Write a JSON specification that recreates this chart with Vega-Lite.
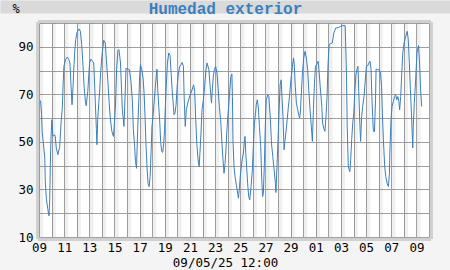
{
"$schema": "https://vega.github.io/schema/vega-lite/v6.json",
"width": 390, "height": 214,
"autosize": {"type": "none"},
"padding": {"left": 39, "top": 23, "right": 21, "bottom": 33},
"background": "#f4f4f4",
"config": {"view": {"fill": "white", "stroke": null}},
"datasets": {
"noches": [
{"desde":"2025-04-09T01:00","hasta":"2025-04-09T08:00"},{"desde":"2025-04-10T01:00","hasta":"2025-04-10T08:00"},{"desde":"2025-04-11T01:00","hasta":"2025-04-11T08:00"},{"desde":"2025-04-12T01:00","hasta":"2025-04-12T08:00"},{"desde":"2025-04-13T01:00","hasta":"2025-04-13T08:00"},{"desde":"2025-04-14T01:00","hasta":"2025-04-14T08:00"},{"desde":"2025-04-15T01:00","hasta":"2025-04-15T08:00"},{"desde":"2025-04-16T01:00","hasta":"2025-04-16T08:00"},{"desde":"2025-04-17T01:00","hasta":"2025-04-17T08:00"},{"desde":"2025-04-18T01:00","hasta":"2025-04-18T08:00"},{"desde":"2025-04-19T01:00","hasta":"2025-04-19T08:00"},{"desde":"2025-04-20T01:00","hasta":"2025-04-20T08:00"},{"desde":"2025-04-21T01:00","hasta":"2025-04-21T08:00"},{"desde":"2025-04-22T01:00","hasta":"2025-04-22T08:00"},{"desde":"2025-04-23T01:00","hasta":"2025-04-23T08:00"},{"desde":"2025-04-24T01:00","hasta":"2025-04-24T08:00"},{"desde":"2025-04-25T01:00","hasta":"2025-04-25T08:00"},{"desde":"2025-04-26T01:00","hasta":"2025-04-26T08:00"},{"desde":"2025-04-27T01:00","hasta":"2025-04-27T08:00"},{"desde":"2025-04-28T01:00","hasta":"2025-04-28T08:00"},{"desde":"2025-04-29T01:00","hasta":"2025-04-29T08:00"},{"desde":"2025-04-30T01:00","hasta":"2025-04-30T08:00"},{"desde":"2025-05-01T01:00","hasta":"2025-05-01T08:00"},{"desde":"2025-05-02T01:00","hasta":"2025-05-02T08:00"},{"desde":"2025-05-03T01:00","hasta":"2025-05-03T08:00"},{"desde":"2025-05-04T01:00","hasta":"2025-05-04T08:00"},{"desde":"2025-05-05T01:00","hasta":"2025-05-05T08:00"},{"desde":"2025-05-06T01:00","hasta":"2025-05-06T08:00"},{"desde":"2025-05-07T01:00","hasta":"2025-05-07T08:00"},{"desde":"2025-05-08T01:00","hasta":"2025-05-08T08:00"},{"desde":"2025-05-09T01:00","hasta":"2025-05-09T08:00"}
],
"humedad": [
{"fecha":"2025-04-09T03:00","hr":67.4},{"fecha":"2025-04-09T05:00","hr":61.4},{"fecha":"2025-04-09T06:00","hr":54.4},{"fecha":"2025-04-09T08:00","hr":50.2},{"fecha":"2025-04-09T11:00","hr":43.2},{"fecha":"2025-04-09T12:00","hr":33.3},{"fecha":"2025-04-09T14:00","hr":26.3},{"fecha":"2025-04-09T16:30","hr":22.1},{"fecha":"2025-04-09T19:00","hr":18.9},{"fecha":"2025-04-09T20:30","hr":25.6},{"fecha":"2025-04-09T21:30","hr":39.6},{"fecha":"2025-04-09T23:00","hr":52.3},
{"fecha":"2025-04-10T00:30","hr":59.3},{"fecha":"2025-04-10T02:30","hr":52.3},{"fecha":"2025-04-10T05:30","hr":53},{"fecha":"2025-04-10T07:00","hr":52.3},{"fecha":"2025-04-10T09:00","hr":47.4},{"fecha":"2025-04-10T12:00","hr":44.6},{"fecha":"2025-04-10T15:30","hr":48},{"fecha":"2025-04-10T18:00","hr":57.9},{"fecha":"2025-04-10T20:30","hr":64.2},{"fecha":"2025-04-10T22:00","hr":74},{"fecha":"2025-04-10T23:30","hr":81.8},
{"fecha":"2025-04-11T03:00","hr":84.8},{"fecha":"2025-04-11T06:00","hr":85.7},{"fecha":"2025-04-11T09:00","hr":84.6},{"fecha":"2025-04-11T11:00","hr":83.2},{"fecha":"2025-04-11T13:00","hr":74},{"fecha":"2025-04-11T15:00","hr":65.6},{"fecha":"2025-04-11T17:00","hr":73.3},{"fecha":"2025-04-11T18:00","hr":79},{"fecha":"2025-04-11T20:00","hr":87.4},{"fecha":"2025-04-11T22:00","hr":93},
{"fecha":"2025-04-12T00:30","hr":96.1},{"fecha":"2025-04-12T04:30","hr":97.5},{"fecha":"2025-04-12T07:00","hr":96.5},{"fecha":"2025-04-12T09:30","hr":90.9},{"fecha":"2025-04-12T12:00","hr":81.8},{"fecha":"2025-04-12T14:00","hr":73.3},{"fecha":"2025-04-12T16:30","hr":67},{"fecha":"2025-04-12T18:00","hr":65.2},{"fecha":"2025-04-12T21:00","hr":71.2},{"fecha":"2025-04-12T23:00","hr":78.2},
{"fecha":"2025-04-13T00:30","hr":83.2},{"fecha":"2025-04-13T03:00","hr":84.8},{"fecha":"2025-04-13T06:00","hr":83.9},{"fecha":"2025-04-13T08:30","hr":83.2},{"fecha":"2025-04-13T09:30","hr":77.5},{"fecha":"2025-04-13T11:30","hr":66.3},{"fecha":"2025-04-13T13:30","hr":55.1},{"fecha":"2025-04-13T14:30","hr":48.8},{"fecha":"2025-04-13T16:00","hr":59.3},{"fecha":"2025-04-13T18:00","hr":66.3},{"fecha":"2025-04-13T19:30","hr":70.5},{"fecha":"2025-04-13T21:30","hr":78.9},
{"fecha":"2025-04-14T00:30","hr":87.4},{"fecha":"2025-04-14T03:30","hr":92.7},{"fecha":"2025-04-14T06:30","hr":91.6},{"fecha":"2025-04-14T08:30","hr":84.6},{"fecha":"2025-04-14T11:00","hr":76.8},{"fecha":"2025-04-14T13:30","hr":67.7},{"fecha":"2025-04-14T16:00","hr":60},{"fecha":"2025-04-14T19:00","hr":54.4},{"fecha":"2025-04-14T22:00","hr":52.3},{"fecha":"2025-04-14T23:30","hr":56.5},
{"fecha":"2025-04-15T02:00","hr":66.3},{"fecha":"2025-04-15T04:00","hr":80.4},{"fecha":"2025-04-15T06:30","hr":88.5},{"fecha":"2025-04-15T08:30","hr":88.8},{"fecha":"2025-04-15T11:30","hr":83.2},{"fecha":"2025-04-15T13:00","hr":74.7},{"fecha":"2025-04-15T15:00","hr":63.5},{"fecha":"2025-04-15T17:00","hr":59.3},{"fecha":"2025-04-15T18:00","hr":56.5},{"fecha":"2025-04-15T20:00","hr":67.7},{"fecha":"2025-04-15T22:00","hr":81},
{"fecha":"2025-04-16T01:00","hr":80.6},{"fecha":"2025-04-16T04:30","hr":80.4},{"fecha":"2025-04-16T07:30","hr":75.4},{"fecha":"2025-04-16T10:00","hr":67.7},{"fecha":"2025-04-16T12:00","hr":55.1},{"fecha":"2025-04-16T14:30","hr":48.1},{"fecha":"2025-04-16T16:00","hr":41.8},{"fecha":"2025-04-16T18:00","hr":38.9},{"fecha":"2025-04-16T20:30","hr":56.5},{"fecha":"2025-04-16T22:30","hr":67.7},
{"fecha":"2025-04-17T00:00","hr":77.5},{"fecha":"2025-04-17T01:30","hr":82.5},{"fecha":"2025-04-17T04:00","hr":80.4},{"fecha":"2025-04-17T06:30","hr":76.8},{"fecha":"2025-04-17T08:30","hr":70.5},{"fecha":"2025-04-17T10:30","hr":59.3},{"fecha":"2025-04-17T12:00","hr":49.5},{"fecha":"2025-04-17T14:00","hr":39.6},{"fecha":"2025-04-17T16:00","hr":32.6},{"fecha":"2025-04-17T18:00","hr":31.2},{"fecha":"2025-04-17T20:00","hr":35.4},{"fecha":"2025-04-17T22:00","hr":46.7},{"fecha":"2025-04-17T23:30","hr":56.5},
{"fecha":"2025-04-18T01:30","hr":60.7},{"fecha":"2025-04-18T03:30","hr":66.3},{"fecha":"2025-04-18T06:00","hr":73.3},{"fecha":"2025-04-18T08:00","hr":78.2},{"fecha":"2025-04-18T09:00","hr":80.6},{"fecha":"2025-04-18T10:30","hr":71.9},{"fecha":"2025-04-18T12:30","hr":64.9},{"fecha":"2025-04-18T14:30","hr":57.9},{"fecha":"2025-04-18T16:00","hr":50.2},{"fecha":"2025-04-18T18:00","hr":46},{"fecha":"2025-04-18T20:00","hr":45.6},{"fecha":"2025-04-18T22:00","hr":49.5},{"fecha":"2025-04-18T23:30","hr":55.1},
{"fecha":"2025-04-19T01:00","hr":64.9},{"fecha":"2025-04-19T03:00","hr":74.7},{"fecha":"2025-04-19T05:00","hr":83.2},{"fecha":"2025-04-19T07:30","hr":87.4},{"fecha":"2025-04-19T10:00","hr":86.3},{"fecha":"2025-04-19T12:00","hr":78.9},{"fecha":"2025-04-19T14:00","hr":71.9},{"fecha":"2025-04-19T16:30","hr":64.9},{"fecha":"2025-04-19T17:30","hr":61.4},{"fecha":"2025-04-19T19:30","hr":62.1},{"fecha":"2025-04-19T21:30","hr":65.6},{"fecha":"2025-04-19T23:30","hr":73.3},
{"fecha":"2025-04-20T02:00","hr":78.9},{"fecha":"2025-04-20T04:30","hr":81.8},{"fecha":"2025-04-20T07:00","hr":82.5},{"fecha":"2025-04-20T09:00","hr":83.4},{"fecha":"2025-04-20T11:30","hr":81.8},{"fecha":"2025-04-20T13:00","hr":68.4},{"fecha":"2025-04-20T15:00","hr":56.5},{"fecha":"2025-04-20T17:00","hr":63.5},{"fecha":"2025-04-20T19:00","hr":65.6},{"fecha":"2025-04-20T21:30","hr":67.7},
{"fecha":"2025-04-21T00:30","hr":69.8},{"fecha":"2025-04-21T04:00","hr":71.9},{"fecha":"2025-04-21T07:00","hr":74},{"fecha":"2025-04-21T09:00","hr":71.2},{"fecha":"2025-04-21T11:00","hr":59.3},{"fecha":"2025-04-21T13:00","hr":49.5},{"fecha":"2025-04-21T15:30","hr":42.5},{"fecha":"2025-04-21T17:30","hr":39.6},{"fecha":"2025-04-21T19:00","hr":45.3},{"fecha":"2025-04-21T21:00","hr":53.7},{"fecha":"2025-04-21T23:00","hr":63.5},
{"fecha":"2025-04-22T01:30","hr":67.7},{"fecha":"2025-04-22T04:00","hr":73.3},{"fecha":"2025-04-22T06:30","hr":80.4},{"fecha":"2025-04-22T08:30","hr":83.2},{"fecha":"2025-04-22T12:00","hr":80.4},{"fecha":"2025-04-22T14:30","hr":73.3},{"fecha":"2025-04-22T17:00","hr":66.3},{"fecha":"2025-04-22T18:30","hr":71.2},{"fecha":"2025-04-22T20:30","hr":77.5},{"fecha":"2025-04-22T22:30","hr":80.4},
{"fecha":"2025-04-23T01:00","hr":81.8},{"fecha":"2025-04-23T03:30","hr":79},{"fecha":"2025-04-23T05:30","hr":73.3},{"fecha":"2025-04-23T08:00","hr":64.9},{"fecha":"2025-04-23T10:30","hr":59.3},{"fecha":"2025-04-23T13:00","hr":49.5},{"fecha":"2025-04-23T15:00","hr":42.5},{"fecha":"2025-04-23T17:00","hr":36.8},{"fecha":"2025-04-23T19:00","hr":41},{"fecha":"2025-04-23T21:00","hr":48.1},{"fecha":"2025-04-23T22:30","hr":55.1},
{"fecha":"2025-04-24T01:00","hr":62.8},{"fecha":"2025-04-24T04:00","hr":71.9},{"fecha":"2025-04-24T06:00","hr":77.5},{"fecha":"2025-04-24T08:00","hr":78.6},{"fecha":"2025-04-24T09:00","hr":69.1},{"fecha":"2025-04-24T10:00","hr":50.9},{"fecha":"2025-04-24T12:00","hr":39.6},{"fecha":"2025-04-24T14:00","hr":35.4},{"fecha":"2025-04-24T16:30","hr":31.9},{"fecha":"2025-04-24T19:00","hr":28.4},{"fecha":"2025-04-24T20:30","hr":26.3},{"fecha":"2025-04-24T22:30","hr":31.2},
{"fecha":"2025-04-25T00:30","hr":36.8},{"fecha":"2025-04-25T03:30","hr":42.5},{"fecha":"2025-04-25T06:00","hr":45.3},{"fecha":"2025-04-25T07:30","hr":49.5},{"fecha":"2025-04-25T09:00","hr":52.3},{"fecha":"2025-04-25T10:30","hr":45.3},{"fecha":"2025-04-25T12:00","hr":39.6},{"fecha":"2025-04-25T14:00","hr":32.6},{"fecha":"2025-04-25T16:00","hr":27},{"fecha":"2025-04-25T18:00","hr":25.6},{"fecha":"2025-04-25T20:30","hr":31.2},{"fecha":"2025-04-25T23:00","hr":38.2},
{"fecha":"2025-04-26T01:00","hr":48.8},{"fecha":"2025-04-26T03:00","hr":57.9},{"fecha":"2025-04-26T05:00","hr":62.1},{"fecha":"2025-04-26T06:30","hr":65.6},{"fecha":"2025-04-26T08:30","hr":67.7},{"fecha":"2025-04-26T10:30","hr":64.2},{"fecha":"2025-04-26T12:30","hr":56.5},{"fecha":"2025-04-26T15:00","hr":48.1},{"fecha":"2025-04-26T17:00","hr":34},{"fecha":"2025-04-26T18:30","hr":27},{"fecha":"2025-04-26T20:00","hr":28.4},{"fecha":"2025-04-26T22:00","hr":41},{"fecha":"2025-04-26T23:30","hr":55.1},
{"fecha":"2025-04-27T01:30","hr":67.7},{"fecha":"2025-04-27T04:30","hr":69.8},{"fecha":"2025-04-27T06:30","hr":69.1},{"fecha":"2025-04-27T09:30","hr":59.3},{"fecha":"2025-04-27T11:30","hr":49.5},{"fecha":"2025-04-27T14:00","hr":43.9},{"fecha":"2025-04-27T16:30","hr":38.2},{"fecha":"2025-04-27T19:00","hr":32.6},{"fecha":"2025-04-27T20:00","hr":28.7},{"fecha":"2025-04-27T22:00","hr":39.6},
{"fecha":"2025-04-28T00:00","hr":50.9},{"fecha":"2025-04-28T02:00","hr":63.5},{"fecha":"2025-04-28T04:00","hr":74},{"fecha":"2025-04-28T06:00","hr":76.1},{"fecha":"2025-04-28T07:30","hr":69.1},{"fecha":"2025-04-28T09:30","hr":60.7},{"fecha":"2025-04-28T11:30","hr":46.7},{"fecha":"2025-04-28T13:30","hr":50.9},{"fecha":"2025-04-28T15:30","hr":55},{"fecha":"2025-04-28T17:30","hr":59.3},{"fecha":"2025-04-28T19:30","hr":64.2},{"fecha":"2025-04-28T22:30","hr":70.5},
{"fecha":"2025-04-29T00:30","hr":76.1},{"fecha":"2025-04-29T03:30","hr":81.8},{"fecha":"2025-04-29T05:30","hr":85.3},{"fecha":"2025-04-29T07:00","hr":82.5},{"fecha":"2025-04-29T09:00","hr":73.3},{"fecha":"2025-04-29T11:00","hr":66.3},{"fecha":"2025-04-29T13:30","hr":63.5},{"fecha":"2025-04-29T17:00","hr":60},{"fecha":"2025-04-29T18:30","hr":62.1},{"fecha":"2025-04-29T20:30","hr":70.5},{"fecha":"2025-04-29T22:30","hr":78.9},
{"fecha":"2025-04-30T01:00","hr":85.3},{"fecha":"2025-04-30T03:30","hr":88.1},{"fecha":"2025-04-30T06:00","hr":85.3},{"fecha":"2025-04-30T08:30","hr":80.4},{"fecha":"2025-04-30T11:00","hr":70.5},{"fecha":"2025-04-30T13:30","hr":62.1},{"fecha":"2025-04-30T15:30","hr":56.5},{"fecha":"2025-04-30T17:30","hr":50.2},{"fecha":"2025-04-30T19:30","hr":63.5},{"fecha":"2025-04-30T21:30","hr":74.7},{"fecha":"2025-04-30T23:30","hr":81.8},
{"fecha":"2025-05-01T01:30","hr":82.5},{"fecha":"2025-05-01T04:30","hr":83.9},{"fecha":"2025-05-01T06:00","hr":80.4},{"fecha":"2025-05-01T08:30","hr":73.3},{"fecha":"2025-05-01T11:30","hr":64.9},{"fecha":"2025-05-01T13:00","hr":57.9},{"fecha":"2025-05-01T16:00","hr":55.1},{"fecha":"2025-05-01T17:30","hr":54.4},{"fecha":"2025-05-01T19:30","hr":60.7},{"fecha":"2025-05-01T21:30","hr":69},{"fecha":"2025-05-01T23:30","hr":83.2},
{"fecha":"2025-05-02T01:30","hr":90.9},{"fecha":"2025-05-02T04:00","hr":91.3},{"fecha":"2025-05-02T07:30","hr":91.6},{"fecha":"2025-05-02T10:30","hr":95.8},{"fecha":"2025-05-02T14:00","hr":97.9},{"fecha":"2025-05-02T18:30","hr":98},{"fecha":"2025-05-02T23:30","hr":98.6},
{"fecha":"2025-05-03T04:00","hr":98.9},{"fecha":"2025-05-03T08:00","hr":98.9},{"fecha":"2025-05-03T09:00","hr":91.6},{"fecha":"2025-05-03T10:30","hr":78.9},{"fecha":"2025-05-03T12:00","hr":56.5},{"fecha":"2025-05-03T14:00","hr":39.6},{"fecha":"2025-05-03T17:00","hr":37.5},{"fecha":"2025-05-03T18:30","hr":42},{"fecha":"2025-05-03T20:30","hr":50.9},{"fecha":"2025-05-03T22:30","hr":57.9},
{"fecha":"2025-05-04T00:30","hr":62.1},{"fecha":"2025-05-04T02:30","hr":71.2},{"fecha":"2025-05-04T04:30","hr":78.2},{"fecha":"2025-05-04T06:30","hr":80.4},{"fecha":"2025-05-04T08:30","hr":81.8},{"fecha":"2025-05-04T10:00","hr":71.2},{"fecha":"2025-05-04T12:00","hr":57.9},{"fecha":"2025-05-04T13:30","hr":50.2},{"fecha":"2025-05-04T15:30","hr":60.7},{"fecha":"2025-05-04T17:30","hr":64.9},{"fecha":"2025-05-04T20:00","hr":69.1},{"fecha":"2025-05-04T22:00","hr":74.7},
{"fecha":"2025-05-05T00:30","hr":81.8},{"fecha":"2025-05-05T03:00","hr":82},{"fecha":"2025-05-05T05:30","hr":83.2},{"fecha":"2025-05-05T07:30","hr":83.9},{"fecha":"2025-05-05T09:30","hr":80.4},{"fecha":"2025-05-05T11:00","hr":69.1},{"fecha":"2025-05-05T12:30","hr":60.7},{"fecha":"2025-05-05T14:00","hr":54.4},{"fecha":"2025-05-05T16:00","hr":54.4},{"fecha":"2025-05-05T18:00","hr":67.7},{"fecha":"2025-05-05T19:00","hr":80.6},{"fecha":"2025-05-05T21:30","hr":80.4},
{"fecha":"2025-05-06T00:30","hr":80.4},{"fecha":"2025-05-06T03:30","hr":79},{"fecha":"2025-05-06T05:30","hr":73.3},{"fecha":"2025-05-06T07:00","hr":62.1},{"fecha":"2025-05-06T09:00","hr":50.9},{"fecha":"2025-05-06T11:30","hr":39.6},{"fecha":"2025-05-06T13:30","hr":35.4},{"fecha":"2025-05-06T16:00","hr":32.6},{"fecha":"2025-05-06T18:30","hr":31.2},{"fecha":"2025-05-06T20:30","hr":36.8},{"fecha":"2025-05-06T21:30","hr":47},{"fecha":"2025-05-06T23:30","hr":59.3},
{"fecha":"2025-05-07T01:30","hr":64.9},{"fecha":"2025-05-07T04:00","hr":67},{"fecha":"2025-05-07T06:30","hr":69.1},{"fecha":"2025-05-07T08:30","hr":69.8},{"fecha":"2025-05-07T10:30","hr":67.7},{"fecha":"2025-05-07T12:30","hr":69.1},{"fecha":"2025-05-07T14:30","hr":67},{"fecha":"2025-05-07T16:00","hr":63.5},{"fecha":"2025-05-07T18:00","hr":69.1},{"fecha":"2025-05-07T20:00","hr":78.9},{"fecha":"2025-05-07T22:00","hr":87.4},
{"fecha":"2025-05-08T00:30","hr":91.6},{"fecha":"2025-05-08T03:30","hr":94.4},{"fecha":"2025-05-08T06:30","hr":96.5},{"fecha":"2025-05-08T08:30","hr":93},{"fecha":"2025-05-08T10:30","hr":83.2},{"fecha":"2025-05-08T12:30","hr":71.9},{"fecha":"2025-05-08T14:30","hr":62.1},{"fecha":"2025-05-08T17:00","hr":47.4},{"fecha":"2025-05-08T18:00","hr":56.5},{"fecha":"2025-05-08T20:00","hr":66.3},{"fecha":"2025-05-08T22:30","hr":76.1},
{"fecha":"2025-05-09T01:00","hr":87.4},{"fecha":"2025-05-09T04:00","hr":90.5},{"fecha":"2025-05-09T06:00","hr":83.2},{"fecha":"2025-05-09T08:00","hr":71.9},{"fecha":"2025-05-09T10:00","hr":64.9}
]
},
"layer": [
{
"data": {"name": "noches"},
"mark": {"type": "rect", "color": "black", "opacity": 0.06},
"encoding": {
"x": {"field": "desde", "type": "temporal",
"scale": {"domain": [{"year": 2025, "month": 4, "date": 9}, {"year": 2025, "month": 5, "date": 10}], "nice": false},
"axis": {"orient": "bottom", "tickCount": {"interval": "day", "step": 1},
"labelExpr": "date(datum.value) % 2 == 1 ? timeFormat(datum.value, '%d') : ''",
"grid": true, "gridColor": "#a0a0a0", "gridOpacity": 1, "gridWidth": 1,
"ticks": false, "tickSize": 0,
"domain": true, "domainColor": "#d0d0d0", "domainWidth": 3, "domainCap": "square", "offset": 2,
"labelFont": "DejaVu Sans Mono", "labelFontSize": 12.5, "labelColor": "#000000", "labelPadding": 12.8,
"labelBaseline": "alphabetic", "labelAlign": "center", "labelAngle": 0,
"labelOverlap": false, "labelFlush": false, "labelBound": false,
"title": "09/05/25 12:00", "titleX": 186, "titleY": 27.6, "titleAlign": "center", "titleBaseline": "alphabetic",
"titleFont": "DejaVu Sans Mono", "titleFontSize": 12.5, "titleFontWeight": "normal", "titleColor": "#000000", "zindex": 0}},
"x2": {"field": "hasta"},
"y": {"datum": 10, "type": "quantitative",
"axis": {"orient": "right", "labels": false, "ticks": false, "grid": false, "title": null,
"domainColor": "#d0d0d0", "domainWidth": 3, "domainCap": "square", "offset": 2, "zindex": 0}},
"y2": {"datum": 100}
}
},
{
"data": {"name": "humedad"},
"mark": {"type": "line", "color": "#3b7fbf", "strokeWidth": 1},
"encoding": {
"x": {"field": "fecha", "type": "temporal",
"scale": {"domain": [{"year": 2025, "month": 4, "date": 9}, {"year": 2025, "month": 5, "date": 10}], "nice": false},
"axis": {"orient": "top", "values": [{"year": 2025, "month": 4, "date": 23, "hours": 19}],
"labels": false, "grid": false,
"ticks": true, "tickSize": 21, "tickWidth": 450, "tickColor": "#d9d9d9", "tickDash": [0, 8, 13, 0],
"domainColor": "#d0d0d0", "domainWidth": 3, "domainCap": "square", "offset": 2,
"title": "Humedad exterior", "titleX": 186, "titleY": -7.5, "titleAlign": "center", "titleBaseline": "alphabetic",
"titleFont": "Liberation Mono", "titleFontSize": 16, "titleFontWeight": "bold", "titleColor": "#3b7fbf", "zindex": 0}},
"y": {"field": "hr", "type": "quantitative",
"scale": {"domain": [10, 100], "nice": false, "zero": false},
"axis": {"orient": "left", "values": [10, 20, 30, 40, 50, 60, 70, 80, 90, 100],
"labelExpr": "datum.value % 20 == 10 ? datum.label : ''",
"grid": true, "gridColor": "#a0a0a0", "gridOpacity": 1, "gridWidth": 1,
"ticks": false, "tickSize": 0,
"domainColor": "#d0d0d0", "domainWidth": 3, "domainCap": "square", "offset": 2,
"labelFont": "DejaVu Sans Mono", "labelFontSize": 12.5, "labelColor": "#000000", "labelPadding": 4,
"labelBaseline": "middle", "labelOverlap": false, "labelFlush": false, "labelBound": false,
"title": "%", "titleAngle": 0, "titleX": -21.5, "titleY": -10.3, "titleAlign": "center", "titleBaseline": "alphabetic",
"titleFont": "DejaVu Sans Mono", "titleFontSize": 12, "titleFontWeight": "normal", "titleColor": "#000000", "zindex": 0}}
}
}
],
"resolve": {"axis": {"x": "independent", "y": "independent"}}
}
